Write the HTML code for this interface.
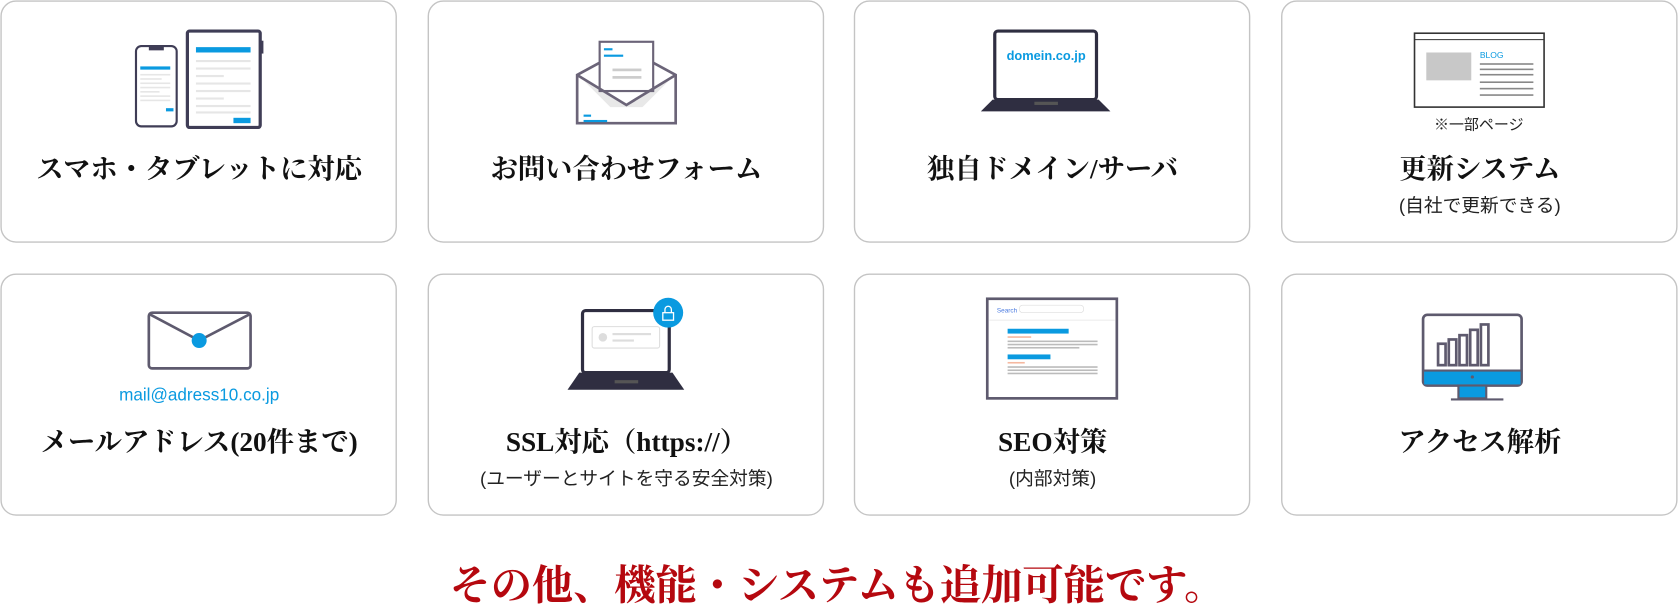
<!DOCTYPE html>
<html><head><meta charset="utf-8"><style>
html,body{margin:0;padding:0;background:#fff;width:1679px;height:615px;overflow:hidden}
svg{display:block}
.t{font-family:"Liberation Serif","Noto Serif CJK JP",serif;font-weight:bold;font-size:25.5px;fill:#111;text-anchor:middle}
.s{font-family:"Liberation Sans","Noto Sans CJK JP",sans-serif;font-size:17.5px;fill:#222;text-anchor:middle}
</style></head><body>
<svg width="1679" height="615" viewBox="0 0 1568 574.3" xmlns="http://www.w3.org/2000/svg">
<g fill="#fff" stroke="#c4c4c4" stroke-width="1.3">
<rect x="1" y="1" width="369" height="225" rx="14"/>
<rect x="400" y="1" width="369" height="225" rx="14"/>
<rect x="798" y="1" width="369" height="225" rx="14"/>
<rect x="1197" y="1" width="369" height="225" rx="14"/>
<rect x="1" y="256" width="369" height="225" rx="14"/>
<rect x="400" y="256" width="369" height="225" rx="14"/>
<rect x="798" y="256" width="369" height="225" rx="14"/>
<rect x="1197" y="256" width="369" height="225" rx="14"/>
</g>
<!-- icon1 -->
<rect x="127" y="43" width="38" height="75" rx="5" fill="#fff" stroke="#3f3d56" stroke-width="2"/>
<rect x="139" y="43" width="14" height="4" fill="#3f3d56"/>
<rect x="131" y="62" width="28" height="3" fill="#0a9ae0"/>
<g fill="#e6e6e6"><rect x="131" y="69" width="28" height="1.5"/><rect x="131" y="73" width="20" height="1.5"/><rect x="131" y="77" width="28" height="1.5"/><rect x="131" y="81" width="28" height="1.5"/><rect x="131" y="85" width="18" height="1.5"/><rect x="131" y="89" width="28" height="1.5"/><rect x="131" y="93" width="28" height="1.5"/></g>
<rect x="155" y="101" width="7" height="3" fill="#0a9ae0"/>
<rect x="175" y="29" width="68" height="90" rx="2" fill="#fff" stroke="#3f3d56" stroke-width="3"/>
<rect x="243" y="38" width="3" height="12" fill="#3f3d56"/>
<rect x="183" y="44" width="51" height="5" fill="#0a9ae0"/>
<g fill="#e6e6e6"><rect x="183" y="56" width="51" height="2"/><rect x="183" y="63" width="51" height="2"/><rect x="183" y="70" width="26" height="2"/><rect x="183" y="77" width="51" height="2"/><rect x="183" y="84" width="51" height="2"/><rect x="183" y="91" width="26" height="2"/><rect x="183" y="98" width="51" height="2"/><rect x="183" y="104" width="51" height="2"/></g>
<rect x="218" y="110" width="16" height="5" fill="#0a9ae0"/>
<!-- icon2 -->
<polygon points="539,70 585,45 631,70 631,115 539,115" fill="#fff" stroke="#6b6478" stroke-width="2.5"/>
<polygon points="545,75 585,98 625,75 600,100 570,100" fill="#e8e8e8"/>
<rect x="560" y="39" width="50" height="46" fill="#fff" stroke="#6b6478" stroke-width="2"/>
<rect x="564" y="45" width="8" height="2" fill="#0a9ae0"/><rect x="564" y="51" width="18" height="2" fill="#0a9ae0"/>
<rect x="572" y="64" width="27" height="2.5" fill="#ccc"/><rect x="572" y="71" width="27" height="2.5" fill="#ccc"/>
<polyline points="539,70 585,98 631,70" fill="none" stroke="#6b6478" stroke-width="2.5"/>
<rect x="545" y="107" width="7" height="2" fill="#0a9ae0"/><rect x="545" y="112" width="22" height="2" fill="#0a9ae0"/>
<!-- icon3 -->
<rect x="929" y="29" width="95" height="64" rx="3" fill="#fff" stroke="#2f2e41" stroke-width="3"/>
<text x="977" y="56" font-family="Liberation Sans,sans-serif" font-weight="bold" font-size="12" fill="#0a9ae0" text-anchor="middle">domein.co.jp</text>
<polygon points="927,93 1026,93 1037,104 916,104" fill="#2f2e41"/>
<rect x="966" y="95" width="22" height="3" fill="#555"/>
<!-- icon4 -->
<rect x="1321" y="31" width="121" height="69" fill="#fff" stroke="#333" stroke-width="1.5"/>
<line x1="1321" y1="37" x2="1442" y2="37" stroke="#333" stroke-width="1"/>
<rect x="1332" y="49" width="42" height="26" fill="#c8c8c8"/>
<text x="1382" y="54" font-family="Liberation Sans,sans-serif" font-size="8" fill="#0a9ae0">BLOG</text>
<g fill="#888"><rect x="1382" y="59" width="50" height="1.5"/><rect x="1382" y="64" width="50" height="1.5"/><rect x="1382" y="69" width="50" height="1.5"/><rect x="1382" y="76" width="50" height="1.5"/><rect x="1382" y="82" width="50" height="1.5"/><rect x="1382" y="88" width="50" height="1.5"/></g>
<text x="1381" y="121" class="s" style="font-size:14px">※一部ページ</text>
<!-- icon5 -->
<rect x="139" y="292" width="95" height="52" rx="3" fill="#fff" stroke="#5e5a6e" stroke-width="2.5"/>
<polyline points="139,293 186,318 234,293" fill="none" stroke="#5e5a6e" stroke-width="2.5"/>
<circle cx="186" cy="318" r="7" fill="#0a9ae0"/>
<text x="186" y="374" font-family="Liberation Sans,sans-serif" font-size="16" fill="#0a9ae0" text-anchor="middle">mail@adress10.co.jp</text>
<!-- icon6 -->
<rect x="544" y="290" width="81" height="58" rx="3" fill="#fff" stroke="#2f2e41" stroke-width="3"/>
<rect x="553" y="305" width="63" height="20" rx="2" fill="#fff" stroke="#ddd"/>
<circle cx="563" cy="315" r="4" fill="#ddd"/>
<rect x="572" y="311" width="36" height="2" fill="#ddd"/><rect x="572" y="317" width="20" height="2" fill="#ddd"/>
<polygon points="541,348 628,348 639,364 530,364" fill="#2f2e41"/>
<rect x="574" y="355" width="22" height="3" fill="#555"/>
<circle cx="624" cy="292" r="14" fill="#0a9ae0"/>
<rect x="619" y="292" width="10" height="7" fill="none" stroke="#fff" stroke-width="1.2"/>
<path d="M621,292v-3a3,3 0 0 1 6,0v3" fill="none" stroke="#fff" stroke-width="1.2"/>
<!-- icon7 -->
<rect x="922" y="279" width="121" height="93" fill="#fff" stroke="#5e5a6e" stroke-width="2.5"/>
<text x="931" y="292" font-family="Liberation Sans,sans-serif" font-size="6" fill="#4a7ae0">Search</text>
<rect x="952" y="285" width="60" height="7" rx="3" fill="#fff" stroke="#ddd" stroke-width="0.6"/>
<line x1="924" y1="299" x2="1041" y2="299" stroke="#eee"/>
<rect x="941" y="307" width="57" height="4.5" fill="#0a9ae0"/>
<rect x="941" y="314" width="22" height="1.5" fill="#f5b8a0"/>
<g fill="#bbb"><rect x="941" y="318" width="84" height="1.5"/><rect x="941" y="321" width="84" height="1.5"/><rect x="941" y="324" width="67" height="1.5"/></g>
<rect x="941" y="331" width="40" height="4.5" fill="#0a9ae0"/>
<rect x="941" y="338" width="16" height="1.5" fill="#f5b8a0"/>
<g fill="#bbb"><rect x="941" y="342" width="84" height="1.5"/><rect x="941" y="345" width="84" height="1.5"/><rect x="941" y="348" width="84" height="1.5"/></g>
<!-- icon8 -->
<rect x="1329" y="294" width="92" height="66" rx="4" fill="#fff" stroke="#5e5a6e" stroke-width="2.5"/>
<rect x="1330" y="346" width="90" height="13" fill="#0a9ae0"/>
<line x1="1329" y1="346" x2="1421" y2="346" stroke="#5e5a6e" stroke-width="2"/>
<circle cx="1375" cy="352" r="1.5" fill="#5e5a6e"/>
<g fill="none" stroke="#5e5a6e" stroke-width="2.5"><rect x="1343" y="321" width="7" height="20"/><rect x="1353" y="317" width="7" height="24"/><rect x="1363" y="313" width="7" height="28"/><rect x="1373" y="308" width="7" height="33"/><rect x="1383" y="303" width="7" height="38"/></g>
<rect x="1362" y="360" width="26" height="12" fill="#0a9ae0" stroke="#5e5a6e" stroke-width="2"/>
<line x1="1355" y1="373" x2="1404" y2="373" stroke="#5e5a6e" stroke-width="2"/>
<!-- titles -->
<text class="t" x="186" y="166">スマホ・タブレットに対応</text>
<text class="t" x="585" y="166">お問い合わせフォーム</text>
<text class="t" x="983" y="166">独自ドメイン/サーバ</text>
<text class="t" x="1382" y="166">更新システム</text>
<text class="s" x="1382" y="198">(自社で更新できる)</text>
<text class="t" x="186" y="421">メールアドレス(20件まで)</text>
<text class="t" x="585" y="421">SSL対応（https://）</text>
<text class="s" x="585" y="453">(ユーザーとサイトを守る安全対策)</text>
<text class="t" x="983" y="421">SEO対策</text>
<text class="s" x="983" y="453">(内部対策)</text>
<text class="t" x="1382" y="421">アクセス解析</text>
<text x="782" y="560" font-family="Liberation Serif,'Noto Serif CJK JP',serif" font-weight="bold" font-size="38.5" fill="#b5080f" text-anchor="middle">その他、機能・システムも追加可能です。</text>
</svg>
</body></html>
